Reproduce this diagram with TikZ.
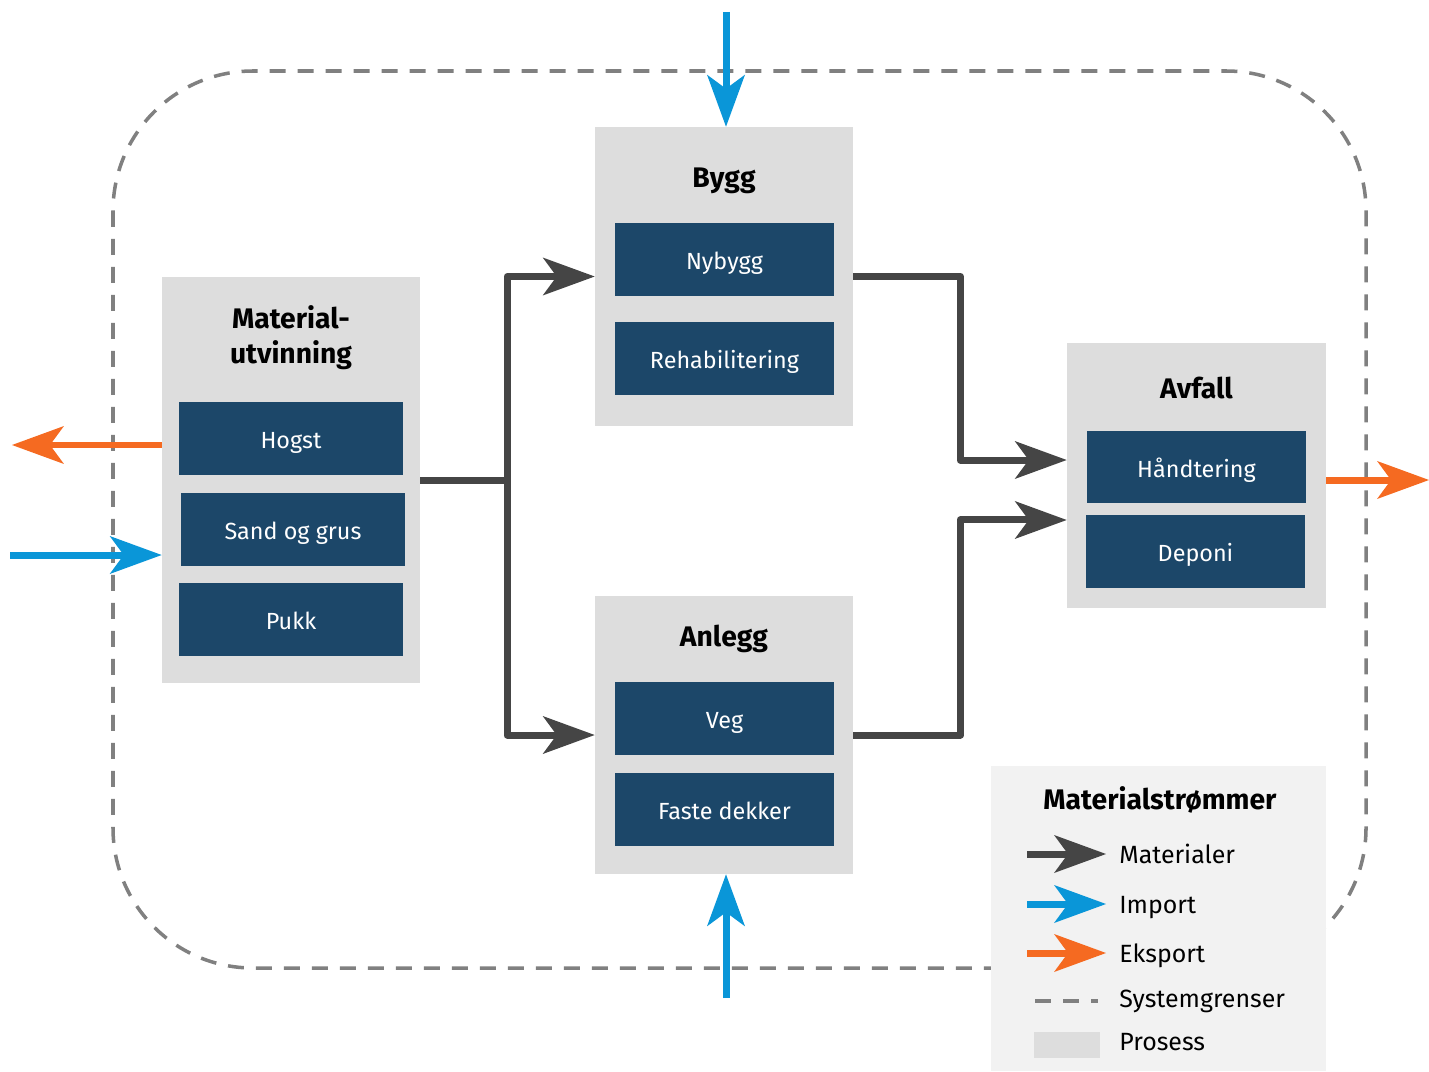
\documentclass[tikz,border=0pt]{standalone}
\usepackage{fontspec}
\setmainfont{Fira Sans}
\usetikzlibrary{arrows.meta,calc}
\definecolor{procgray}{HTML}{DDDDDD}
\definecolor{subblue}{HTML}{1C4769}
\definecolor{matgray}{HTML}{454545}
\definecolor{impblue}{HTML}{0A96D8}
\definecolor{exporange}{HTML}{F56A21}
\definecolor{bordgray}{HTML}{808080}
\definecolor{legbg}{HTML}{F2F2F2}
\begin{document}
\begin{tikzpicture}[x=0.02cm,y=-0.02cm,
  vc/.style={text height=1.1em, text depth=0.15em},
  vcs/.style={text height=1.25em, text depth=0.1em},
  proc/.style={fill=procgray, draw=none, inner sep=0pt},
  sub/.style={fill=subblue, text=white, draw=none, inner sep=0pt, minimum width=4.38cm, minimum height=1.46cm, font=\fontsize{13.3}{16}\selectfont, vcs},
  ttl/.style={font=\bfseries\fontsize{16.1}{20}\selectfont, align=center, inner sep=0pt},
  ttl1/.style={ttl, vc},
  tip/.style={-{Stealth[length=1.04cm,width=0.76cm,inset=0.28cm,line width=0pt]}},
  flow/.style={line width=3.98pt, line join=round, tip},
  mat/.style={flow, draw=matgray},
  imp/.style={flow, draw=impblue},
  expo/.style={flow, draw=exporange},
  sysb/.style={draw=bordgray, line width=2pt, dash pattern=on 0.32cm off 0.24cm},
  legtxt/.style={anchor=west, inner sep=0pt, font=\fontsize{14.2}{17}\selectfont, vc}
]
\useasboundingbox (0,0) rectangle (1429,1071);
% system boundary
\draw[sysb, rounded corners=2.8cm] (113,71) rectangle (1366,968);

% Material-utvinning
\node[proc, minimum width=5.16cm, minimum height=8.12cm] (matbox) at (291,480) {};
\node[ttl] (mattitle) at (291,338) {Material-\\utvinning};
\node[sub, minimum width=4.48cm] (hogst) at (291,438.5) {Hogst};
\node[sub, minimum width=4.48cm] (sand) at (293,529.5) {Sand og grus};
\node[sub, minimum width=4.48cm] (pukk) at (291,619.5) {Pukk};

% Bygg
\node[proc, minimum width=5.16cm, minimum height=5.98cm] (bygg) at (724,276.5) {};
\node[ttl1] (byggtitle) at (724,179) {Bygg};
\node[sub] (nybygg) at (724.5,259.5) {Nybygg};
\node[sub] (rehab) at (724.5,358.5) {Rehabilitering};

% Anlegg
\node[proc, minimum width=5.16cm, minimum height=5.56cm] (anlegg) at (724,735) {};
\node[ttl1] (anleggtitle) at (724,638) {Anlegg};
\node[sub] (veg) at (724.5,718.5) {Veg};
\node[sub] (faste) at (724.5,809.5) {Faste dekker};

% Avfall
\node[proc, minimum width=5.18cm, minimum height=5.3cm] (avfall) at (1196.5,475.5) {};
\node[ttl1] (avfalltitle) at (1196.5,390) {Avfall};
\node[sub, minimum height=1.44cm] (handt) at (1196.5,467) {Håndtering};
\node[sub] (deponi) at (1195.5,551.5) {Deponi};

% material flows
\coordinate (split) at (507,480);
\draw[mat] (matbox.east) -- (split) |- (bygg.west);
\draw[mat] (split) |- (anlegg.west);
\coordinate (avin1) at ([yshift=0.31cm]avfall.west);
\coordinate (avin2) at ([yshift=-0.89cm]avfall.west);
\draw[mat] (bygg.east) -- ++(107,0) |- (avin1);
\draw[mat] (anlegg.east) -- ++(107,0) |- (avin2);

% import / export
\coordinate (topin) at (726,12);
\coordinate (botin) at (726,998);
\coordinate (leftin) at (10,555);
\coordinate (leftout) at (12,445);
\coordinate (rightout) at (1429,480);
\draw[imp] (topin) -- (topin |- bygg.north);
\draw[imp] (botin) -- (botin |- anlegg.south);
\draw[imp] (leftin) -- (leftin -| matbox.west);
\draw[expo] (leftout -| matbox.west) -- (leftout);
\draw[expo] (rightout -| avfall.east) -- (rightout);

% legend
\node[fill=legbg, draw=none, inner sep=0pt, minimum width=6.7cm, minimum height=6.1cm] (legend) at (1158.5,918.5) {};
\node[ttl1] (legtitle) at (1160,801) {Materialstrømmer};
\coordinate (l1a) at (1027,854); \coordinate (l1b) at (1106,854);
\coordinate (l2a) at (1027,904); \coordinate (l2b) at (1106,904);
\coordinate (l3a) at (1027,953); \coordinate (l3b) at (1106,953);
\coordinate (l4a) at (1035,1001); \coordinate (l4b) at (1098,1001);
\draw[mat] (l1a) -- (l1b);
\draw[imp] (l2a) -- (l2b);
\draw[expo] (l3a) -- (l3b);
\draw[sysb] (l4a) -- (l4b);
\node[proc, minimum width=1.32cm, minimum height=0.52cm] (legproc) at (1067,1045) {};
\node[legtxt] (lt1) at (1119,855) {Materialer};
\node[legtxt] (lt2) at (1119,905) {Import};
\node[legtxt] (lt3) at (1119,954) {Eksport};
\node[legtxt] (lt4) at (1119,999.5) {Systemgrenser};
\node[legtxt] (lt5) at (1119,1042.5) {Prosess};
\end{tikzpicture}
\end{document}
